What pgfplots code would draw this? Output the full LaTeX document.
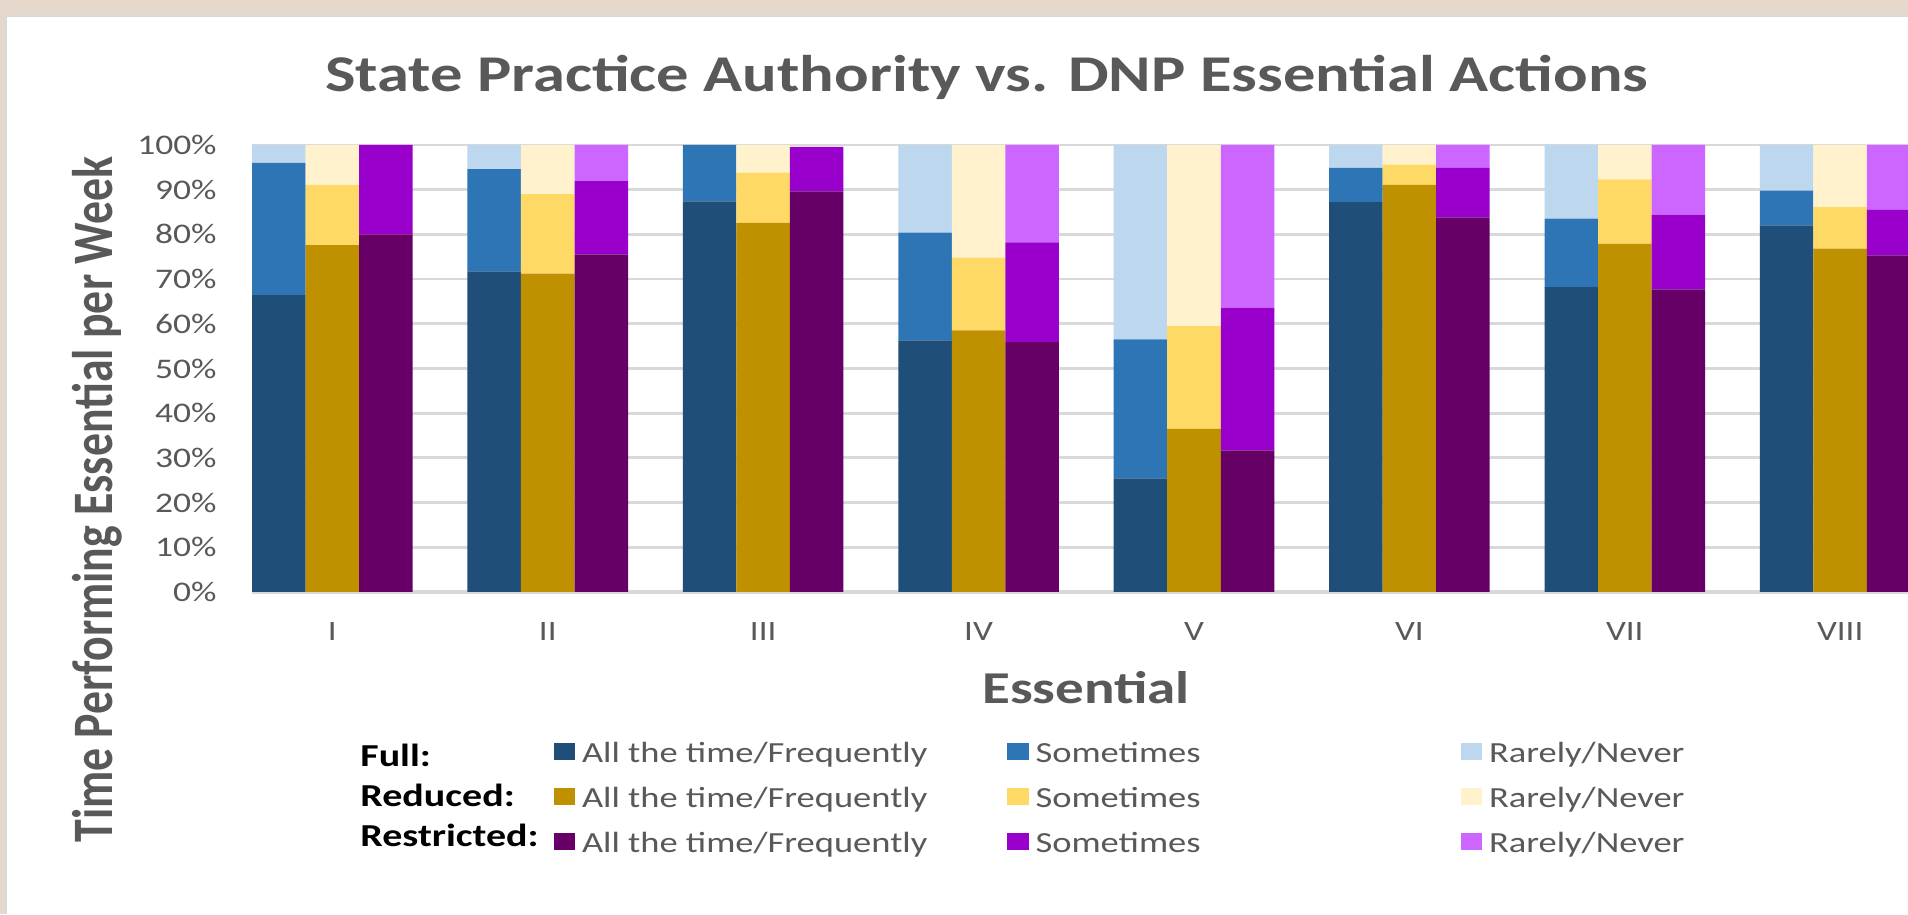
\documentclass[border=0pt]{standalone}
\usepackage{pgfplots}
\usepackage{pgfplotstable}
\pgfplotsset{compat=1.18}
\usepackage{fontspec}
\setmainfont{Carlito}
\newfontfamily\cfont[FakeStretch=1.25]{Carlito}
\newfontfamily\cfontv[FakeStretch=0.8]{Carlito}

\definecolor{txtgray}{HTML}{595959}
\definecolor{gridc}{HTML}{D9D9D9}
\definecolor{beige}{HTML}{E6D8CB}
\definecolor{fd}{HTML}{1F4E79}
\definecolor{fm}{HTML}{2E75B6}
\definecolor{fl}{HTML}{BDD7EE}
\definecolor{rd}{HTML}{BF9000}
\definecolor{rm}{HTML}{FFD966}
\definecolor{rl}{HTML}{FFF2CC}
\definecolor{sd}{HTML}{660066}
\definecolor{sm}{HTML}{9900CC}
\definecolor{sl}{HTML}{CC66FF}

% segment values (percent): Full, Reduced, Restricted
\pgfplotstableread{
x  all   some  rare
0  66.4  29.6  4.0
1  71.7  22.9  5.4
2  87.4  12.6  0.0
3  56.3  24.1  19.6
4  25.4  31.1  43.5
5  87.2  7.7   5.1
6  68.2  15.3  16.5
7  82.0  7.8   10.2
}\full
\pgfplotstableread{
x  all   some  rare
0  77.6  13.5  8.9
1  71.2  17.8  11.0
2  82.6  11.2  6.2
3  58.5  16.3  25.2
4  36.5  23.0  40.5
5  91.1  4.5   4.4
6  77.9  14.4  7.7
7  76.8  9.3   13.9
}\reduced
\pgfplotstableread{
x  all   some  rare
0  80.0  20.0  0.0
1  75.5  16.4  8.1
2  89.6  10.0  0.0
3  55.9  22.3  21.8
4  31.7  31.9  36.4
5  83.8  11.1  5.1
6  67.7  16.7  15.6
7  75.3  10.2  14.5
}\restricted

\pgfplotsset{
  base/.style={at={(126bp,161bp)}, anchor=south west, scale only axis,
    width=828bp, height=223.5bp, xmin=-0.373, xmax=7.315, ymin=0, ymax=100,
    ybar stacked, bar width=26.77bp},
}
\newcommand\lt[1]{\rule[-3bp]{0pt}{11bp}#1}
\newcommand\lb[1]{\makebox[212.5bp][l]{\lt{#1}}}

\begin{document}
\begin{tikzpicture}[x=0.5bp,y=0.5bp]
% canvas
\fill[white] (0,0) rectangle (1908,914);
\fill[beige] (0,899) rectangle (1908,914);
\fill[beige] (0,0) rectangle (4,914);
\fill[gridc] (4,0) rectangle (7,899);
\fill[gridc] (4,896.5) rectangle (1908,899);

% Full
\begin{axis}[base,
  ymajorgrids, grid style={draw=gridc, line width=1.4bp},
  major tick length=0pt,
  axis x line*=bottom, axis y line*=left,
  x axis line style={draw=gridc, line width=1.6bp},
  y axis line style={draw=none},
  xtick={0,...,7}, xticklabels={I,II,III,IV,V,VI,VII,VIII},
  ytick={0,10,...,100},
  yticklabels={0\%,10\%,20\%,30\%,40\%,50\%,60\%,70\%,80\%,90\%,100\%},
  xticklabel style={font=\cfont\fontsize{14bp}{16bp}\selectfont, text=txtgray, anchor=north, inner sep=0pt, yshift=-15bp},
  yticklabel style={font=\cfont\fontsize{14.2bp}{16bp}\selectfont, text=txtgray, anchor=east, inner sep=0pt, xshift=-17.5bp},
]
\addplot[fill=fd, draw=none, bar shift=-26.77bp] table[x=x,y=all]{\full};
\addplot[fill=fm, draw=none, bar shift=-26.77bp] table[x=x,y=some]{\full};
\addplot[fill=fl, draw=none, bar shift=-26.77bp] table[x=x,y=rare]{\full};
\end{axis}

% Reduced
\begin{axis}[base, hide axis]
\addplot[fill=rd, draw=none, bar shift=0bp] table[x=x,y=all]{\reduced};
\addplot[fill=rm, draw=none, bar shift=0bp] table[x=x,y=some]{\reduced};
\addplot[fill=rl, draw=none, bar shift=0bp] table[x=x,y=rare]{\reduced};
\end{axis}

% Restricted
\begin{axis}[base, hide axis]
\addplot[fill=sd, draw=none, bar shift=26.77bp] table[x=x,y=all]{\restricted};
\addplot[fill=sm, draw=none, bar shift=26.77bp] table[x=x,y=some]{\restricted};
\addplot[fill=sl, draw=none, bar shift=26.77bp] table[x=x,y=rare]{\restricted};
\end{axis}

% legend only
\begin{axis}[at={(0bp,0bp)}, anchor=south west, scale only axis, width=954bp, height=457bp,
  hide axis, xmin=0, xmax=1, ymin=0, ymax=1,
  legend image code/.code={\fill[#1] (0bp,-3.1bp) rectangle (10.75bp,5.4bp);},
  legend cell align=left,
  legend style={at={(0.2901,0.1881)}, anchor=north west, draw=none, fill=none,
    inner sep=0pt, outer sep=0pt, legend columns=3,
    font=\cfont\fontsize{14.6bp}{16bp}\selectfont, text=txtgray,
    nodes={inner sep=0pt, outer sep=0pt},
    row sep=10.85bp,
    /tikz/every odd column/.append style={column sep=3.5bp},
    /tikz/every even column/.append style={column sep=0bp}},
]
\addlegendimage{fill=fd, draw=none}
\addlegendimage{fill=fm, draw=none}
\addlegendimage{fill=fl, draw=none}
\addlegendimage{fill=rd, draw=none}
\addlegendimage{fill=rm, draw=none}
\addlegendimage{fill=rl, draw=none}
\addlegendimage{fill=sd, draw=none}
\addlegendimage{fill=sm, draw=none}
\addlegendimage{fill=sl, draw=none}
\legend{\lb{All the time/Frequently},\lb{Sometimes},\lt{Rarely/Never},
\lb{All the time/Frequently},\lb{Sometimes},\lt{Rarely/Never},
\lb{All the time/Frequently},\lb{Sometimes},\lt{Rarely/Never}}
\end{axis}

% titles
\node[anchor=base, inner sep=0pt, text=txtgray, font=\cfont\bfseries\fontsize{25.8bp}{30bp}\selectfont] at (987,822) {State Practice Authority vs. DNP Essential Actions};
\node[anchor=base, inner sep=0pt, text=txtgray, font=\cfont\bfseries\fontsize{22.8bp}{26bp}\selectfont] at (1086,211) {Essential};
\node[anchor=base, rotate=90, inner sep=0pt, text=txtgray, font=\cfontv\bfseries\fontsize{28.6bp}{32bp}\selectfont] at (112,414.5) {Time Performing Essential per Week};
\node[anchor=base west, inner sep=0pt, font=\cfont\bfseries\fontsize{16bp}{18bp}\selectfont] at (360,148) {Full:};
\node[anchor=base west, inner sep=0pt, font=\cfont\bfseries\fontsize{16bp}{18bp}\selectfont] at (360,107.5) {Reduced:};
\node[anchor=base west, inner sep=0pt, font=\cfont\bfseries\fontsize{16bp}{18bp}\selectfont] at (360,67.5) {Restricted:};

\pgfresetboundingbox
\path[use as bounding box] (0,0) rectangle (1908,914);
\end{tikzpicture}
\end{document}
